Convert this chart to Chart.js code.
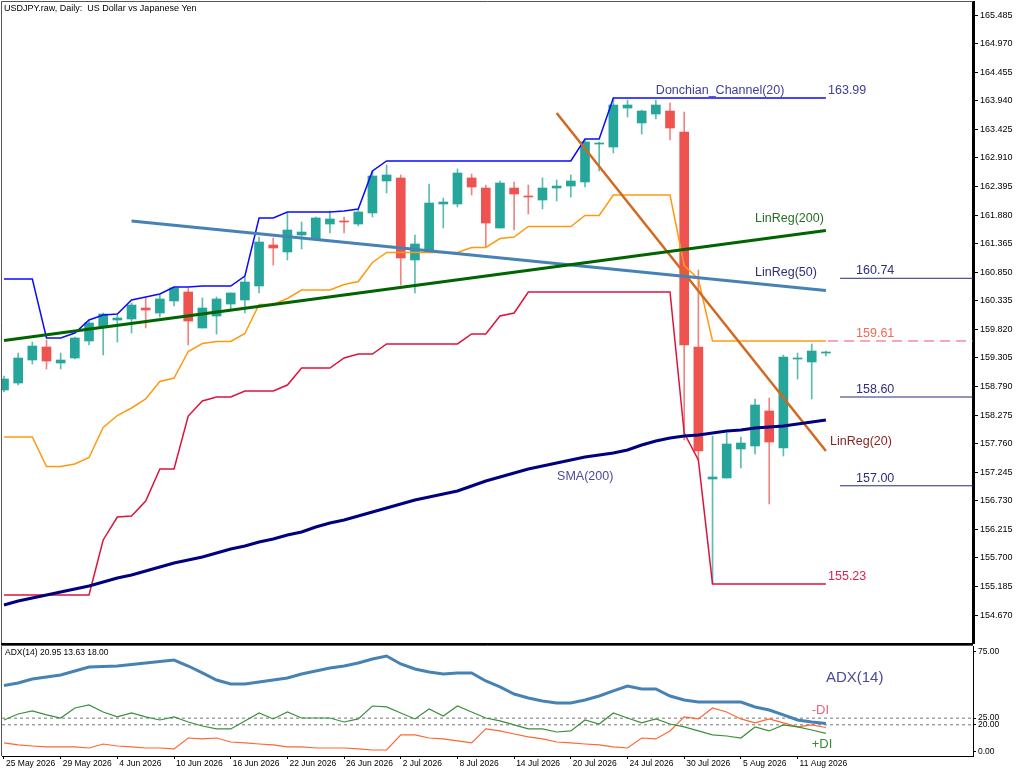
<!DOCTYPE html>
<html>
<head>
<meta charset="utf-8">
<script src="https://cdn.jsdelivr.net/npm/chart.js@4.4.0/dist/chart.umd.min.js"></script>
<style>
  body { margin: 0; background: #fff; }
  #wrap { position: relative; width: 1024px; height: 773px; }
  #main { position: absolute; left: 0; top: 0; }
  #adx { position: absolute; left: 0; top: 645px; }
</style>
</head>
<body>
<div id="wrap">
  <canvas id="main" width="1024" height="645"></canvas>
  <canvas id="adx" width="1024" height="128"></canvas>
</div>
<script>
// daily bars, 25 May 2026 .. 13 Aug 2026 (index 0..58)
const opens = [158.726,158.852,159.267,159.501,159.213,159.303,159.610,159.862,159.988,160.006,
  160.204,160.114,160.331,160.493,159.844,160.060,160.276,160.349,160.601,161.340,
  161.214,161.520,161.448,161.718,161.773,161.718,161.917,162.494,162.548,161.070,
  161.214,162.079,162.079,162.548,162.367,161.646,162.367,162.223,162.151,162.367,
  162.403,162.476,163.160,163.106,163.809,163.539,163.701,163.755,163.377,159.501,
  157.122,157.140,157.663,157.717,158.348,157.681,159.285,159.231,159.393];
const highs = [158.979,159.393,159.592,159.628,159.393,159.682,159.970,160.114,160.078,160.294,
  160.385,160.439,160.583,160.565,160.385,160.403,160.475,160.763,161.484,161.466,
  161.917,161.754,161.845,161.953,161.845,161.971,162.674,162.782,162.602,161.520,
  162.440,162.187,162.710,162.620,162.421,162.494,162.476,162.421,162.548,162.512,
  162.602,163.233,163.197,163.990,163.954,163.773,163.954,163.899,163.737,160.889,
  157.897,157.951,157.879,158.564,158.582,159.357,159.393,159.556,159.429];
const lows = [158.690,158.816,159.195,159.105,159.105,159.285,159.537,159.357,159.592,159.754,
  159.844,160.042,160.240,159.537,159.844,159.736,160.168,160.114,160.475,160.979,
  161.070,161.268,161.430,161.556,161.556,161.682,161.845,162.277,160.619,160.475,
  161.214,161.646,162.025,162.241,161.304,161.646,161.610,161.899,161.989,162.133,
  162.205,162.385,162.674,162.998,163.647,163.341,163.611,163.233,157.825,157.465,
  155.230,157.140,157.320,157.573,156.672,157.537,158.924,158.565,159.339];
const closes = [158.925,159.303,159.519,159.249,159.267,159.664,159.934,160.096,160.024,160.258,
  160.168,160.367,160.565,159.970,160.204,160.367,160.475,160.673,161.394,161.286,
  161.610,161.574,161.827,161.809,161.754,161.935,162.584,162.602,161.106,161.358,
  162.097,162.115,162.638,162.385,161.736,162.457,162.259,162.205,162.367,162.403,
  162.494,163.197,163.178,163.863,163.863,163.755,163.863,163.449,159.537,157.627,
  157.158,157.753,157.771,158.456,157.789,159.321,159.303,159.429,159.411];

// Donchian_Channel(20) upper / lower band
const donchUpper = [160.727,160.727,160.727,159.664,159.664,159.754,159.988,160.078,160.096,160.349,
  160.403,160.457,160.583,160.583,160.601,160.601,160.601,160.781,161.827,161.827,
  161.935,161.935,161.935,161.935,161.953,161.989,162.674,162.854,162.854,162.854,
  162.854,162.854,162.854,162.854,162.854,162.854,162.854,162.854,162.854,162.854,
  162.854,163.251,163.251,163.990,163.990,163.990,163.990,163.990,163.990,163.990,
  163.990,163.990,163.990,163.990,163.990,163.990,163.990,163.990,163.990];
const donchLower = [155.031,155.031,155.031,155.031,155.031,155.031,155.031,156.023,156.437,156.455,
  156.726,157.302,157.302,158.257,158.528,158.600,158.600,158.708,158.708,158.708,
  158.816,159.123,159.123,159.123,159.303,159.375,159.375,159.556,159.556,159.556,
  159.556,159.556,159.556,159.736,159.736,160.060,160.114,160.493,160.493,160.493,
  160.493,160.493,160.493,160.493,160.493,160.493,160.493,160.493,157.951,157.465,
  155.230,155.230,155.230,155.230,155.230,155.230,155.230,155.230,155.230];

const sma200 = [154.851,154.923,154.977,155.031,155.085,155.139,155.193,155.265,155.338,155.392,
  155.464,155.536,155.608,155.662,155.716,155.788,155.860,155.914,155.986,156.041,
  156.113,156.167,156.257,156.329,156.383,156.455,156.527,156.599,156.672,156.744,
  156.798,156.852,156.906,156.996,157.086,157.158,157.230,157.302,157.356,157.410,
  157.465,157.519,157.555,157.591,157.645,157.735,157.807,157.861,157.897,157.915,
  157.951,157.987,158.005,158.041,158.059,158.077,158.113,158.149,158.185];

// regression lines: [first bar, last bar] and their prices
const linReg200Bars = [0, 58];
const linReg200 = [159.619, 161.601];
const linReg50Bars = [9, 58];
const linReg50 = [161.773, 160.520];
const linReg20Bars = [39, 58];
const linReg20 = [163.719, 157.627];

// horizontal price levels on the right
const levels = [160.74, 158.60, 157.00];

const adx = [49.5,51.4,54.4,55.9,57.4,60.4,63.4,63.8,64.1,65.3,
  66.4,67.5,68.6,64.1,58.9,53.6,50.6,50.6,52.1,53.6,
  55.1,58.1,60.4,62.6,64.1,66.4,69.4,71.6,65.6,61.9,
  59.6,58.1,58.9,58.9,52.9,48.4,43.1,40.1,37.9,36.4,
  36.4,38.6,41.6,45.4,49.1,46.9,46.9,41.6,38.6,37.1,
  37.1,37.1,37.1,33.4,31.1,27.4,23.6,22.1,20.95];
const plusDI = [23.6,28.1,30.4,27.4,25.1,32.6,34.9,29.6,25.9,28.9,
  25.9,23.6,25.9,22.1,19.1,16.9,16.9,22.9,28.9,24.4,
  29.6,25.1,25.1,25.1,22.1,24.4,34.1,33.4,28.9,24.4,
  31.9,26.6,34.1,29.6,25.1,22.9,19.9,16.9,16.9,14.6,
  15.4,23.6,20.6,28.9,25.1,21.4,24.4,20.6,18.4,15.4,
  12.4,11.6,10.1,18.4,15.4,19.9,18.4,16.1,13.63];
const minusDI = [6.4,4.9,4.1,3.4,3.4,3.4,2.6,5.6,4.1,3.4,
  2.6,2.6,1.9,10.1,9.4,10.1,7.1,6.4,5.6,4.9,
  3.4,3.4,2.6,2.6,2.6,1.9,1.1,1.1,12.4,12.4,
  10.1,9.4,7.9,6.4,16.9,15.4,13.1,10.9,9.4,7.1,
  6.4,5.6,4.9,3.4,2.6,10.1,9.4,15.4,25.9,24.4,
  32.6,29.6,24.4,21.4,24.4,21.4,18.4,19.9,18.00];
const adxLevels = [25, 20];

const priceTicks = [154.670,155.185,155.700,156.215,156.730,157.245,157.760,158.275,158.790,159.305,
  159.820,160.335,160.850,161.365,161.880,162.395,162.910,163.425,163.940,164.455,164.970,165.485];
const adxTicks = [0, 20, 25, 75];
const dateIdx = [0, 4, 8, 12, 16, 20, 24, 28, 32, 36, 40, 44, 48, 52, 56];
const dateLabels = ['25 May 2026','29 May 2026','4 Jun 2026','10 Jun 2026','16 Jun 2026','22 Jun 2026',
  '26 Jun 2026','2 Jul 2026','8 Jul 2026','14 Jul 2026','20 Jul 2026','24 Jul 2026','30 Jul 2026',
  '5 Aug 2026','11 Aug 2026'];

const FONT = 'Liberation Sans, Arial, sans-serif';
const X_MIN = -0.14, X_MAX = 68.38;
const last = opens.length - 1;

const donchMid = donchUpper.map((u, i) => (u + donchLower[i]) / 2);
const pts = arr => arr.map((v, i) => ({ x: i, y: v }));
const seg = (bars, vals) => bars.map((b, k) => ({ x: b, y: vals[k] }));
const up = opens.map((o, i) => closes[i] >= o);

function lineSet(data, color, width, extra) {
  return Object.assign({
    type: 'line', data, borderColor: color, borderWidth: width,
    pointRadius: 0, tension: 0, fill: false, order: 5
  }, extra || {});
}

// text drawn next to the lines, placed in data space
function notesPlugin(id, notes) {
  return {
    id,
    afterDatasetsDraw(chart) {
      const { ctx, scales } = chart;
      ctx.save();
      ctx.textBaseline = 'middle';
      ctx.textAlign = 'left';
      notes.forEach(n => {
        ctx.font = n.size + 'px ' + FONT;
        ctx.fillStyle = n.color;
        const px = n.px !== undefined ? n.px : scales.x.getPixelForValue(n.x);
        const py = n.py !== undefined ? n.py : scales.y.getPixelForValue(n.y);
        ctx.fillText(n.text, px, py);
      });
      ctx.restore();
    }
  };
}

function framePlugin(id, bottomWidth) {
  return {
    id,
    afterDraw(chart) {
      const { ctx, chartArea: a } = chart;
      ctx.save();
      ctx.strokeStyle = '#555';
      ctx.lineWidth = 1;
      ctx.beginPath();
      ctx.moveTo(a.left - 0.5, a.bottom);
      ctx.lineTo(a.left - 0.5, a.top - 0.5);
      ctx.lineTo(a.right, a.top - 0.5);
      ctx.stroke();
      ctx.fillStyle = '#000';
      ctx.fillRect(a.left - 1, a.bottom, a.right - a.left + 1, bottomWidth);
      ctx.restore();
    }
  };
}

const mainNotes = [
  { text: 'USDJPY.raw, Daily:  US Dollar vs Japanese Yen', px: 4, py: 9, color: '#000', size: 9 },
  { text: 'Donchian_Channel(20)', x: 46.0, y: 164.116, color: '#3d3d9c', size: 12.5 },
  { text: donchUpper[last].toFixed(2), x: 58.15, y: 164.116, color: '#3d3d9c', size: 12.5 },
  { text: 'LinReg(200)', x: 53.0, y: 161.809, color: '#237023', size: 12.5 },
  { text: levels[0].toFixed(2), x: 60.13, y: 160.871, color: '#2e2e80', size: 12.5 },
  { text: 'LinReg(50)', x: 53.0, y: 160.835, color: '#2e2e80', size: 12.5 },
  { text: donchMid[last].toFixed(2), x: 60.13, y: 159.736, color: '#f26a52', size: 12.5 },
  { text: levels[1].toFixed(2), x: 60.13, y: 158.726, color: '#2e2e80', size: 12.5 },
  { text: 'LinReg(20)', x: 58.29, y: 157.789, color: '#8b2323', size: 12.5 },
  { text: levels[2].toFixed(2), x: 60.13, y: 157.122, color: '#2e2e80', size: 12.5 },
  { text: 'SMA(200)', x: 39.03, y: 157.158, color: '#4a4a9c', size: 12.5 },
  { text: donchLower[last].toFixed(2), x: 58.15, y: 155.356, color: '#e0204a', size: 12.5 }
];

const adxNotes = [
  { text: 'ADX(14) ' + adx[last].toFixed(2) + ' ' + plusDI[last].toFixed(2) + ' ' + minusDI[last].toFixed(2),
    px: 5, py: 8, color: '#000', size: 8.5 },
  { text: 'ADX(14)', x: 58.0, y: 55.1, color: '#4a4a9c', size: 15 },
  { text: '-DI', x: 57.0, y: 31.1, color: '#f0607a', size: 13 },
  { text: '+DI', x: 57.0, y: 5.6, color: '#3a8a3a', size: 13 }
];

const mainDatasets = [
  {
    type: 'bar', data: opens.map((o, i) => ({ x: i, y: [lows[i], highs[i]] })),
    backgroundColor: up.map(u => u ? '#5fbcb2' : '#f08580'),
    barThickness: 1, grouped: false, order: 20
  },
  {
    type: 'bar', data: opens.map((o, i) => ({ x: i, y: [o, closes[i]] })),
    backgroundColor: up.map(u => u ? '#26a69a' : '#ef5350'),
    barThickness: 9, minBarLength: 1, grouped: false, order: 19
  },
  lineSet(pts(donchUpper), '#0a0aff', 1.5),
  lineSet(pts(donchMid), '#ff9a10', 1.5),
  lineSet(pts(donchLower), '#dc143c', 1.5),
  lineSet(pts(sma200), '#00007f', 3, { order: 4 }),
  lineSet(seg(linReg200Bars, linReg200), '#006400', 3, { order: 4 }),
  lineSet(seg(linReg50Bars, linReg50), '#4682b4', 3, { order: 4 }),
  lineSet(seg(linReg20Bars, linReg20), '#d2691e', 2.5, { order: 4 }),
  lineSet([{ x: 58.15, y: donchMid[last] }, { x: X_MAX, y: donchMid[last] }], '#f0506e', 1, { borderDash: [10, 6] })
].concat(levels.map(v => lineSet([{ x: 59.0, y: v }, { x: X_MAX, y: v }], '#2a2a78', 1)));

new Chart(document.getElementById('main'), {
  data: { datasets: mainDatasets },
  options: {
    responsive: false, animation: false, events: [],
    layout: { padding: { left: 2, top: 2, bottom: 2, right: 0 } },
    plugins: { legend: { display: false }, tooltip: { enabled: false } },
    scales: {
      x: { type: 'linear', min: X_MIN, max: X_MAX, display: false, offset: false, grid: { offset: false } },
      y: {
        type: 'linear', position: 'right', min: 154.166, max: 165.720,
        afterBuildTicks: s => { s.ticks = priceTicks.map(v => ({ value: v })); },
        afterFit: s => { s.width = 51; s.paddingTop = 0; s.paddingBottom = 0; },
        ticks: { font: { family: FONT, size: 9 }, color: '#000', padding: 2, autoSkip: false,
                 callback: v => Number(v).toFixed(3) },
        grid: { drawOnChartArea: false, drawTicks: true, tickLength: 5, color: '#000' },
        border: { display: true, color: '#000', width: 3 }
      }
    }
  },
  plugins: [framePlugin('mainFrame', 2), notesPlugin('mainNotes', mainNotes)]
});

const adxDatasets = [
  lineSet(pts(adx), '#4682b4', 3, { order: 3 }),
  lineSet(pts(plusDI), '#3c8f3c', 1.2, { order: 4 }),
  lineSet(pts(minusDI), '#ff6633', 1.2, { order: 4 })
].concat(adxLevels.map(v => lineSet([{ x: X_MIN, y: v }, { x: X_MAX, y: v }], '#777', 1,
  { borderDash: [3, 3], order: 6 })));

new Chart(document.getElementById('adx'), {
  data: { datasets: adxDatasets },
  options: {
    responsive: false, animation: false, events: [],
    layout: { padding: { left: 2, top: 1, bottom: 0, right: 0 } },
    plugins: { legend: { display: false }, tooltip: { enabled: false } },
    scales: {
      x: {
        type: 'linear', position: 'bottom', min: X_MIN, max: X_MAX, offset: false,
        afterBuildTicks: s => { s.ticks = dateIdx.map(v => ({ value: v })); },
        afterFit: s => { s.height = 17; s.paddingLeft = 0; s.paddingRight = 0; },
        ticks: { font: { family: FONT, size: 8.5 }, color: '#000', align: 'start', labelOffset: 2,
                 padding: 0, maxRotation: 0, autoSkip: false,
                 callback: v => dateLabels[dateIdx.indexOf(v)] },
        grid: { drawOnChartArea: false, drawTicks: true, tickLength: 3, color: '#000' },
        border: { display: true, color: '#000', width: 1 }
      },
      y: {
        type: 'linear', position: 'right', min: -3.4, max: 79.1,
        afterBuildTicks: s => { s.ticks = adxTicks.map(v => ({ value: v })); },
        afterFit: s => { s.width = 51; s.paddingTop = 0; s.paddingBottom = 0; },
        ticks: { font: { family: FONT, size: 8.5 }, color: '#000', padding: 2, autoSkip: false,
                 callback: v => Number(v).toFixed(2) },
        grid: { drawOnChartArea: false, drawTicks: true, tickLength: 3, color: '#000' },
        border: { display: true, color: '#000', width: 1 }
      }
    }
  },
  plugins: [framePlugin('adxFrame', 0), notesPlugin('adxNotes', adxNotes)]
});
</script>
</body>
</html>
